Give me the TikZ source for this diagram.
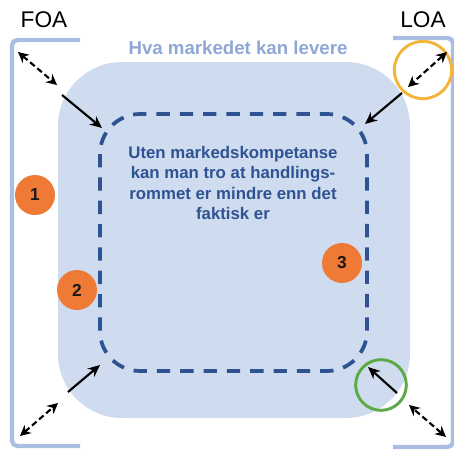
\documentclass[tikz,border=0pt]{standalone}
\usepackage{fontspec}
\setmainfont{Liberation Sans}
\usetikzlibrary{arrows.meta}
\definecolor{bracketblue}{HTML}{A9BEE2}
\definecolor{areafill}{HTML}{CFDCEF}
\definecolor{darkblue}{HTML}{2F5293}
\definecolor{titleblue}{HTML}{8EA7D6}
\definecolor{numorange}{HTML}{EE7A35}
\definecolor{ringyellow}{HTML}{F3B53C}
\definecolor{ringgreen}{HTML}{5BAA47}
\tikzset{
  bracket/.style={draw=bracketblue, line width=3.2pt, rounded corners=4pt},
  numdot/.style={circle, fill=numorange, minimum size=30pt, inner sep=0pt,
    text=black!90, font=\bfseries\fontsize{13}{15}\selectfont},
  solidarrow/.style={draw=black, line width=1.6pt, -{Stealth[length=9pt,width=8pt]}},
  dasharrow/.style={draw=black, line width=1.6pt, dash pattern=on 4.5pt off 2.5pt,
    {Stealth[length=8pt,width=8pt]}-{Stealth[length=8pt,width=8pt]}},
  ring/.style={draw, line width=2.2pt, circle, inner sep=0pt}
}
\begin{document}
\begin{tikzpicture}[x=0.75pt,y=-0.75pt]
  \useasboundingbox (0,0) rectangle (454,450);

  % outer brackets
  \draw[bracket] (80,40) -- (12,40) -- (12,446) -- (80,446);
  \draw[bracket] (393,38) -- (453,38) -- (453,447) -- (393,447);
  \node[font=\fontsize{17}{20}\selectfont] (foa) at (44,20) {FOA};
  \node[font=\fontsize{17}{20}\selectfont] (loa) at (423,20) {LOA};

  % market area
  \fill[areafill, rounded corners=48pt] (58,62) rectangle (410,418);
  \node[text=titleblue, font=\bfseries\fontsize{14}{16}\selectfont] (title) at (238,48) {Hva markedet kan levere};

  % perceived room of action
  \draw[darkblue, line width=2.8pt, dash pattern=on 10pt off 7.5pt, rounded corners=30pt]
    (100,114) rectangle (367,371);
  \node[text=darkblue, align=center, font=\bfseries\fontsize{12.6}{15.2}\selectfont] (txt) at (233,183)
    {Uten markedskompetanse\\kan man tro at handlings-\\rommet er mindre enn det\\faktisk er};

  % numbered markers
  \node[numdot] (n1) at (35,195) {1};
  \node[numdot] (n2) at (77,290) {2};
  \node[numdot] (n3) at (342,263) {3};

  % highlight rings
  \node[ring, draw=ringyellow, minimum size=43pt] (ry) at (423,70) {};
  \node[ring, draw=ringgreen, minimum size=38pt] (rg) at (381,385) {};

  % corner arrows
  \coordinate (tl1) at (18,52);  \coordinate (tl2) at (57,85);
  \coordinate (tl3) at (62,95);  \coordinate (tl4) at (102,128);
  \coordinate (tr1) at (447,52); \coordinate (tr2) at (408,87);
  \coordinate (tr3) at (402,93); \coordinate (tr4) at (365,124);
  \coordinate (bl1) at (20,436); \coordinate (bl2) at (58,403);
  \coordinate (bl3) at (68,392); \coordinate (bl4) at (100,365);
  \coordinate (br1) at (446,437); \coordinate (br2) at (409,405);
  \coordinate (br3) at (397,393); \coordinate (br4) at (368,367);

  \draw[dasharrow] (tl1) -- (tl2);
  \draw[solidarrow] (tl3) -- (tl4);
  \draw[dasharrow] (tr1) -- (tr2);
  \draw[solidarrow] (tr3) -- (tr4);
  \draw[dasharrow] (bl1) -- (bl2);
  \draw[solidarrow] (bl3) -- (bl4);
  \draw[dasharrow] (br1) -- (br2);
  \draw[solidarrow] (br3) -- (br4);
\end{tikzpicture}
\end{document}
